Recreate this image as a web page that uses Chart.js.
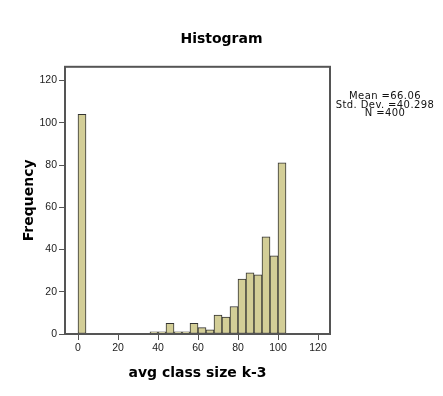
<!DOCTYPE html>
<html>
<head>
<meta charset="utf-8">
<title>Histogram</title>
<script src="https://cdn.jsdelivr.net/npm/chart.js@4/dist/chart.umd.min.js"></script>
<style>
    body { margin: 0; background: #fff; }
    #wrap { position: relative; width: 443px; height: 396px; }
    #stats {
        position: absolute; left: 335px; top: 92px; width: 100px;
        font-family: "DejaVu Sans", sans-serif; font-size: 10px; line-height: 8.5px;
        letter-spacing: 0.4px; text-align: center; color: #111; white-space: nowrap;
    }
</style>
</head>
<body>
<div id="wrap">
    <canvas id="histChart"></canvas>
    <div id="stats">
        <div>Mean =66.06</div>
        <div>Std. Dev. =40.298</div>
        <div>N =400</div>
    </div>
</div>
<script>
// Histogram bins (start of each bin) and their frequencies
const binStarts = [0, 36, 40, 44, 48, 52, 56, 60, 64, 68, 72, 76, 80, 84, 88, 92, 96, 100];
const frequencies = [104, 1, 1, 5, 1, 1, 5, 3, 2, 9, 8, 13, 26, 29, 28, 46, 37, 81];
const binWidth = 4;

// Axis tick labels
const xTicks = [0, 20, 40, 60, 80, 100, 120];
const yTicks = [0, 20, 40, 60, 80, 100, 120];

document.addEventListener("DOMContentLoaded", function () {
    const ctx = document.getElementById("histChart").getContext("2d");

    // bars sit at the middle of each bin
    const points = binStarts.map((start, i) => ({ x: start + binWidth / 2, y: frequencies[i] }));

    // frame around the plot area
    const framePlugin = {
        id: "frame",
        afterDraw(chart) {
            const a = chart.chartArea;
            const c = chart.ctx;
            c.save();
            c.strokeStyle = "#555";
            c.lineWidth = 2;
            c.strokeRect(a.left, a.top, a.right - a.left, a.bottom - a.top);
            c.restore();
        }
    };

    const tickFont = { family: "'Liberation Sans', Arial, sans-serif", size: 10.5 };
    const titleFont = { family: "'DejaVu Sans', sans-serif", size: 14, weight: "bold" };

    new Chart(ctx, {
        type: "bar",
        data: {
            datasets: [{
                label: "Frequency",
                data: points,
                backgroundColor: "#d3ce97",
                borderColor: "#333",
                borderWidth: 1,
                borderSkipped: false,
                barPercentage: 1,
                categoryPercentage: 1
            }]
        },
        options: {
            responsive: true,
            maintainAspectRatio: false,
            animation: false,
            layout: { padding: 0 },
            plugins: {
                legend: { display: false },
                tooltip: { enabled: false },
                title: {
                    display: true,
                    text: "Histogram",
                    color: "#000",
                    font: titleFont,
                    padding: { top: 31, bottom: 19 }
                }
            },
            scales: {
                x: {
                    type: "linear",
                    min: -6.5,
                    max: 126,
                    offset: false,
                    afterBuildTicks: s => { s.ticks = xTicks.map(v => ({ value: v })); },
                    afterFit: s => { s.height = 62; },
                    grid: { offset: false, drawOnChartArea: false, tickLength: 6, color: "#555" },
                    border: { display: false },
                    ticks: { color: "#222", font: tickFont, padding: 2, maxRotation: 0 },
                    title: {
                        display: true,
                        text: "avg class size k-3",
                        color: "#000",
                        font: titleFont,
                        padding: { top: 0, bottom: 14 }
                    }
                },
                y: {
                    min: 0,
                    max: 126.5,
                    afterBuildTicks: s => { s.ticks = yTicks.map(v => ({ value: v })); },
                    afterFit: s => { s.width = 65; },
                    grid: { drawOnChartArea: false, tickLength: 6, color: "#555" },
                    border: { display: false },
                    ticks: { color: "#222", font: tickFont, padding: 2 },
                    title: {
                        display: true,
                        text: "Frequency",
                        color: "#000",
                        font: titleFont,
                        padding: { top: 21, bottom: 0 }
                    }
                },
                // empty axis keeping room on the right for the statistics
                yRight: {
                    position: "right",
                    afterFit: s => { s.width = 113; },
                    grid: { display: false },
                    border: { display: false },
                    ticks: { display: false }
                }
            }
        },
        plugins: [framePlugin]
    });
});
</script>
</body>
</html>
